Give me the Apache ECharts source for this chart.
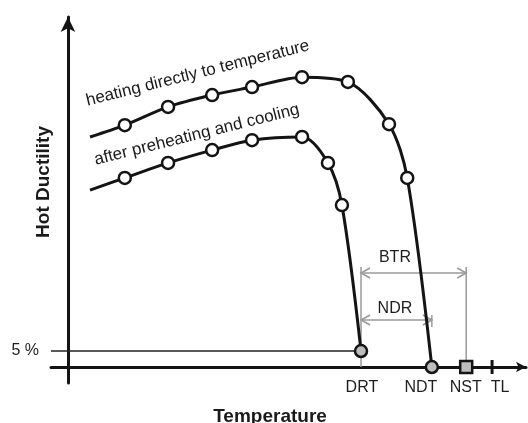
<!DOCTYPE html>
<html><head><meta charset="utf-8">
<script src="https://cdn.jsdelivr.net/npm/echarts@6/dist/echarts.min.js"></script>
<style>html,body{margin:0;padding:0;background:#fff}#c{width:528px;height:423px}</style>
</head><body><div id="c"></div>
<script>
// ---- data (abstract units: temperature along x, ductility % along y) ----
const upperX = [5.2, 13.4, 23.6, 34.0, 43.4, 55.2, 66.0, 75.7, 80.0, 85.8];
const upperY = [71.9, 75.6, 81.3, 85.0, 87.5, 90.6, 89.1, 75.9, 59.1, 0];
const lowerX = [5.2, 13.4, 23.6, 34.0, 43.4, 55.2, 61.3, 64.6, 69.1];
const lowerY = [55.3, 59.1, 63.8, 67.8, 70.9, 71.9, 63.8, 50.6, 5];
const curveNames = ['heating directly to temperature', 'after preheating and cooling'];
const curveLabelX = [30.6, 30.4];
const curveLabelY = [91.8, 72.6];
const tickNames = ['DRT', 'NDT', 'NST', 'TL'];
const tickX = [69.1, 85.8, 93.9, 100];
const tickLabelX = [69.3, 83.2, 93.8, 101.9];
const limitValue = 5;
const limitLabel = '5 %';
const rangeNames = ['BTR', 'NDR'];
const rangeFrom = [69.1, 69.1];
const rangeTo = [93.9, 85.8];
const rangeY = [29.4, 14.7];
const rangeLabelX = [77.1, 77.1];
const rangeLabelY = [34.1, 18.4];
const guideX = [69.1, 93.9, 85.8];
const guideTop = [31.25, 31.25, 16.25];
const guideBottom = [0, 0, 12.5];
const axisNames = ['Temperature', 'Hot Ductility'];

const FONT = '"Liberation Sans", Arial, sans-serif';
const INK = '#141414';
const GREY = '#9a9a9a';
const chart = echarts.init(document.getElementById('c'), null, {renderer: 'canvas'});

function curveData(xs, ys) {
  return xs.map((x, i) => {
    const d = {value: [x, ys[i]]};
    if (i === 0) d.symbol = 'none';
    if (i === xs.length - 1) d.itemStyle = {color: '#bdbdbd'};
    return d;
  });
}
const curveSeries = (xs, ys) => ({
  type: 'line', data: curveData(xs, ys), smooth: 0.3,
  symbol: 'circle', symbolSize: 12, showSymbol: true, z: 5,
  lineStyle: {color: INK, width: 3},
  itemStyle: {color: '#fff', borderColor: INK, borderWidth: 2.5, opacity: 1}
});
const textLabel = (extra) => Object.assign({show: true, formatter: '{b}', color: '#1e1e1e',
  fontSize: 16, fontFamily: FONT}, extra);

const option = {
  animation: false,
  grid: {left: 51, right: 2, top: 17, bottom: 40},
  xAxis: {
    type: 'value', min: -4, max: 108,
    axisLine: {show: true, onZero: true, symbol: ['none', 'arrow'], symbolSize: [8, 10],
      lineStyle: {color: INK, width: 3}},
    axisTick: {show: false}, axisLabel: {show: false}, splitLine: {show: false}
  },
  yAxis: {
    type: 'value', min: -5, max: 109.4,
    axisLine: {show: true, onZero: true, symbol: ['none', 'arrow'], symbolSize: [11, 15],
      lineStyle: {color: INK, width: 3}},
    axisTick: {show: false}, axisLabel: {show: false}, splitLine: {show: false}
  },
  series: [
    { // vertical guide lines
      type: 'custom', z: 2,
      data: guideX.map((x, i) => [x, guideTop[i], guideBottom[i]]),
      encode: {x: 0, y: [1, 2]},
      renderItem(params, api) {
        const p1 = api.coord([api.value(0), api.value(1)]);
        const p2 = api.coord([api.value(0), api.value(2)]);
        return {type: 'line', shape: {x1: p1[0], y1: p1[1], x2: p2[0], y2: p2[1]},
          style: {stroke: GREY, lineWidth: 1.5}};
      }
    },
    { // range arrows
      type: 'custom', z: 2,
      data: rangeFrom.map((x, i) => [x, rangeTo[i], rangeY[i]]),
      encode: {x: [0, 1], y: 2},
      renderItem(params, api) {
        const y = api.value(2);
        const p1 = api.coord([api.value(0), y]);
        const p2 = api.coord([api.value(1), y]);
        const a = 9, h = 5;
        const st = {stroke: GREY, lineWidth: 1.6, fill: null};
        return {type: 'group', children: [
          {type: 'line', shape: {x1: p1[0], y1: p1[1], x2: p2[0], y2: p2[1]}, style: st},
          {type: 'polyline', shape: {points: [[p1[0] + a, p1[1] - h], [p1[0], p1[1]], [p1[0] + a, p1[1] + h]]}, style: st},
          {type: 'polyline', shape: {points: [[p2[0] - a, p2[1] - h], [p2[0], p2[1]], [p2[0] - a, p2[1] + h]]}, style: st}
        ]};
      }
    },
    { // range labels
      type: 'scatter', symbolSize: 0, z: 6, itemStyle: {opacity: 1},
      data: rangeNames.map((n, i) => ({name: n, value: [rangeLabelX[i], rangeLabelY[i]]})),
      label: textLabel({position: 'inside'})
    },
    { // 5 % limit line
      type: 'line', symbol: 'none', z: 3,
      data: [[-4, limitValue], [lowerX[lowerX.length - 1], limitValue]],
      lineStyle: {color: '#222', width: 1.4}
    },
    {
      type: 'scatter', symbolSize: 0, z: 6, itemStyle: {opacity: 1},
      data: [{name: limitLabel, value: [-4, limitValue]}],
      label: textLabel({position: 'left', distance: 12})
    },
    curveSeries(upperX, upperY),
    curveSeries(lowerX, lowerY),
    { // curve labels
      type: 'scatter', symbolSize: 0, z: 6, itemStyle: {opacity: 1},
      data: curveNames.map((n, i) => ({name: n, value: [curveLabelX[i], curveLabelY[i]]})),
      label: textLabel({position: 'inside', rotate: 14, fontSize: 17, color: '#1a1a1a'})
    },
    { // NST square
      type: 'scatter', symbol: 'rect', symbolSize: 12, z: 7,
      data: [[tickX[2], 0]],
      itemStyle: {color: '#bdbdbd', borderColor: INK, borderWidth: 2.5, opacity: 1}
    },
    { // TL tick
      type: 'scatter', symbol: 'rect', symbolSize: [3, 14], z: 7,
      data: [[tickX[3], 0]],
      itemStyle: {color: INK, opacity: 1}
    },
    { // tick labels
      type: 'scatter', symbolSize: 0, z: 6, itemStyle: {opacity: 1},
      data: tickNames.map((n, i) => ({name: n, value: [tickLabelX[i], 0]})),
      label: textLabel({position: 'bottom', distance: 13})
    }
  ],
  graphic: [
    {type: 'text', x: 270, y: 417, style: {text: axisNames[0],
      font: 'bold 19px ' + FONT, fill: '#1a1a1a', textAlign: 'center', textVerticalAlign: 'middle'}},
    {type: 'text', x: 44, y: 182, rotation: Math.PI / 2, style: {text: axisNames[1],
      font: 'bold 19px ' + FONT, fill: '#1a1a1a', textAlign: 'center', textVerticalAlign: 'middle'}}
  ]
};
chart.setOption(option);
</script></body></html>
